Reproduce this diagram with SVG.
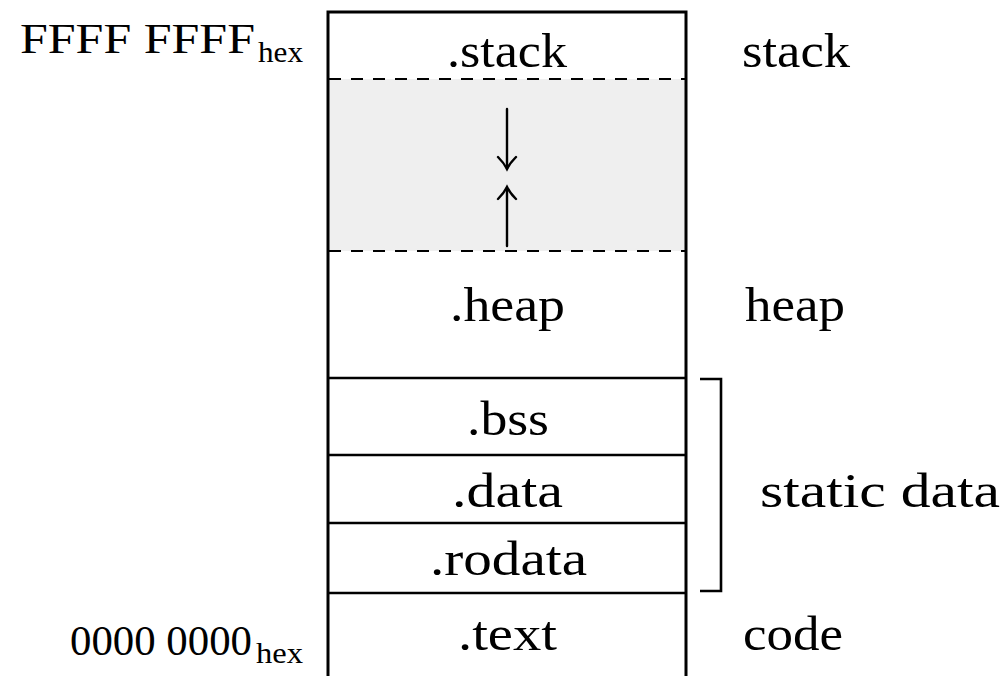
<svg xmlns="http://www.w3.org/2000/svg" width="1005" height="676" viewBox="0 0 1005 676">
<style>
text{font-family:"Liberation Serif","Times New Roman",serif;fill:#000}
.m{font-size:48px}
.a{font-size:42px}
.s{font-size:29px}
.b{stroke:#000;stroke-width:3;fill:none}
.l{stroke:#000;stroke-width:2.6;fill:none}
.d{stroke:#000;stroke-width:1.8;stroke-dasharray:12 10;fill:none}
.ar{stroke:#000;stroke-width:2.4;fill:none;stroke-linecap:round}
</style>
<rect width="1005" height="676" fill="#fff"/>
<g id="gap">
<rect x="328" y="79" width="358" height="172" fill="#efefef"/>
</g>
<g id="connectors">
<path class="ar" d="M507 109 V169"/>
<path class="ar" d="M498 157 Q504 163 507 169 Q510 163 516 157"/>
<path class="ar" d="M507 246 V187"/>
<path class="ar" d="M498 199 Q504 193 507 187 Q510 193 516 199"/>
<path class="l" d="M700 379 H721 V591 H700"/>
</g>
<g id="frame">
<path class="b" d="M328 676 V12 H686 V676"/>
<path class="d" d="M329 79 H685"/>
<path class="d" d="M329 251 H685"/>
<path class="l" d="M328 378 H686"/>
<path class="l" d="M328 455 H686"/>
<path class="l" d="M328 523 H686"/>
<path class="l" d="M328 593 H686"/>
</g>
<g id="stack"><text class="m" x="447" y="67" textLength="120" lengthAdjust="spacingAndGlyphs">.stack</text><text class="m" x="742" y="67" textLength="108" lengthAdjust="spacingAndGlyphs">stack</text></g>
<g id="heap"><text class="m" x="450" y="321" textLength="115" lengthAdjust="spacingAndGlyphs">.heap</text><text class="m" x="745" y="321" textLength="100" lengthAdjust="spacingAndGlyphs">heap</text></g>
<g id="bss"><text class="m" x="467" y="435" textLength="82" lengthAdjust="spacingAndGlyphs">.bss</text></g>
<g id="data"><text class="m" x="452" y="507" textLength="111" lengthAdjust="spacingAndGlyphs">.data</text></g>
<g id="rodata"><text class="m" x="430" y="575" textLength="157" lengthAdjust="spacingAndGlyphs">.rodata</text></g>
<g id="text"><text class="m" x="458" y="650" textLength="99" lengthAdjust="spacingAndGlyphs">.text</text><text class="m" x="743" y="650" textLength="100" lengthAdjust="spacingAndGlyphs">code</text></g>
<g id="static"><text class="m" x="760" y="507" textLength="240" lengthAdjust="spacingAndGlyphs">static data</text></g>
<g id="addr-top"><text class="a" x="20" y="53" textLength="235" lengthAdjust="spacingAndGlyphs">FFFF FFFF</text><text class="s" x="258" y="62" textLength="45" lengthAdjust="spacingAndGlyphs">hex</text></g>
<g id="addr-bottom"><text class="a" x="70" y="655" textLength="182" lengthAdjust="spacingAndGlyphs">0000 0000</text><text class="s" x="256" y="663" textLength="47" lengthAdjust="spacingAndGlyphs">hex</text></g>
</svg>
